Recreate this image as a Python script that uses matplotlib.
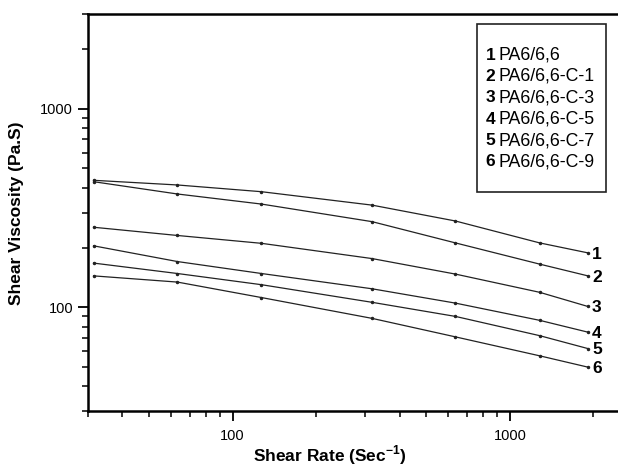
import matplotlib
matplotlib.use('Agg')
from matplotlib import pyplot as plt
from matplotlib.ticker import LogLocator, NullFormatter, FixedLocator, FixedFormatter

plt.rcParams['font.family'] = ['Liberation Sans', 'DejaVu Sans']
plt.rcParams['mathtext.fontset'] = 'custom'
plt.rcParams['mathtext.rm'] = 'Liberation Sans'
plt.rcParams['mathtext.bf'] = 'Liberation Sans:bold'

# shear rate (1/s)
shear_rate = [31.5, 63.2, 127, 318, 636, 1280, 1910]

# shear viscosity (Pa.s) per sample
visc_1 = [436, 413, 382, 327, 272, 211, 188]
visc_2 = [429, 372, 331, 270, 211, 165, 144]
visc_3 = [253, 230, 210, 176, 147, 119, 101]
visc_4 = [204, 170, 148, 124, 105, 86, 75]
visc_5 = [167, 148, 130, 106, 90, 72, 62]
visc_6 = [144, 134, 112, 88, 71, 57, 50]

curve_ids = ['1', '2', '3', '4', '5', '6']
sample_names = ['PA6/6,6', 'PA6/6,6-C-1', 'PA6/6,6-C-3',
                'PA6/6,6-C-5', 'PA6/6,6-C-7', 'PA6/6,6-C-9']
all_visc = [visc_1, visc_2, visc_3, visc_4, visc_5, visc_6]

W, H = 618, 471
fig = plt.figure(figsize=(W / 100, H / 100), dpi=100)
ax = fig.add_axes([87.7 / W, 1 - 411.2 / H, 532.6 / W, 397.3 / H])

for cid, v in zip(curve_ids, all_visc):
    ax.plot(shear_rate, v, color='#222222', lw=0.9, marker='.', ms=3)
    ax.annotate(cid, (shear_rate[-1], v[-1]), xytext=(3, -1),
                textcoords='offset points', va='center', ha='left',
                fontsize=12.5, fontweight='bold')

ax.set_xscale('log')
ax.set_yscale('log')
ax.set_xlim(30, 2500)
ax.set_ylim(30, 3000)

ax.xaxis.set_major_locator(FixedLocator([100, 1000]))
ax.xaxis.set_major_formatter(FixedFormatter(['100', '1000']))
ax.yaxis.set_major_locator(FixedLocator([100, 1000]))
ax.yaxis.set_major_formatter(FixedFormatter(['100', '1000']))
ax.xaxis.set_minor_locator(LogLocator(base=10, subs=range(2, 10), numticks=20))
ax.yaxis.set_minor_locator(LogLocator(base=10, subs=range(2, 10), numticks=20))
ax.xaxis.set_minor_formatter(NullFormatter())
ax.yaxis.set_minor_formatter(NullFormatter())

for s in ax.spines.values():
    s.set_linewidth(1.8)
ax.tick_params(which='major', length=7, width=1.3, labelsize=10.5, direction='out')
ax.tick_params(which='minor', length=4, width=1.1, direction='out')
ax.tick_params(axis='x', pad=6)

# axis titles
fig.text(17 / W, 1 - 213 / H, 'Shear Viscosity (Pa.S)', rotation=90,
         ha='center', va='center', fontsize=12.5, fontweight='bold')
fig.text(330 / W, 1 - 455 / H, r'Shear Rate (Sec$^{\mathbf{-1}}$)',
         ha='center', va='center', fontsize=12.5, fontweight='bold')

# legend box
box = plt.Rectangle((476.7 / W, 1 - 191.7 / H), 129 / W, 167.4 / H,
                    transform=fig.transFigure, fill=False, lw=1.2,
                    edgecolor='#222222')
fig.patches.append(box)
for i, (cid, name) in enumerate(zip(curve_ids, sample_names)):
    y = 1 - (55 + i * 21.4) / H
    fig.text(485.5 / W, y, cid, ha='left', va='center',
             fontsize=12.5, fontweight='bold')
    fig.text(499 / W, y, name, ha='left', va='center', fontsize=12.8)

fig.savefig('out.png', dpi=100)
